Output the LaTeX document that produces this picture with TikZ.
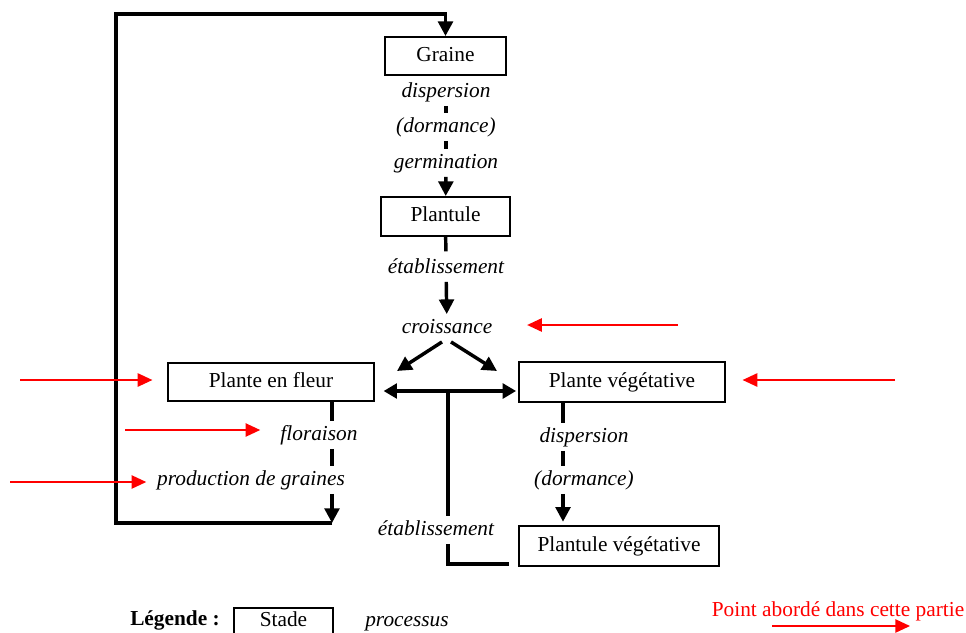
\documentclass[tikz,border=0pt]{standalone}
\usepackage{fontspec}
\setmainfont{Liberation Serif}
\usetikzlibrary{arrows.meta}
\begin{document}
\begin{tikzpicture}[x=0.75pt,y=-0.75pt,
  every node/.style={font=\fontsize{16}{19}\selectfont},
  stagebox/.style 2 args={draw, line width=1.4pt, minimum width=#1*0.75pt, minimum height=#2*0.75pt, inner sep=0pt, text height=11pt, text depth=3.5pt},
  boxline/.style={line width=1.4pt},
  proc/.style={font=\fontsize{16}{19}\selectfont\itshape, inner sep=3pt, text height=11pt, text depth=3.5pt},
  link/.style={line width=2.6pt},
  arr/.style={link, -{Triangle[length=11pt,width=11pt]}},
  dbl/.style={link, {Triangle[length=10pt,width=11pt]}-{Triangle[length=10pt,width=11pt]}},
  redarr/.style={red, line width=1.1pt, -{Triangle[length=11pt,width=10pt]}}]
\useasboundingbox (0,0) rectangle (966,632);
\clip (0,0) rectangle (966,632);

% stages
\node[stagebox={121}{38}] (graine) at (445.5,56) {Graine};
\node[stagebox={129}{39}] (plantule) at (445.5,216.5) {Plantule};
\node[stagebox={206}{38}] (fleur) at (271,382) {Plante en fleur};
\node[stagebox={206}{40}] (veg) at (622,382) {Plante végétative};
\node[stagebox={200}{40}] (pveg) at (619,546) {Plantule végétative};

% processes
\node[proc] (disp1) at (446,92) {dispersion};
\node[proc] (dorm1) at (446,127) {(dormance)};
\node[proc] (germ) at (446,163) {germination};
\node[proc] (etab1) at (446,268) {établissement};
\node[proc] (crois) at (447,328) {croissance};
\node[proc] (flor) at (319,435) {floraison};
\node[proc] (prod) at (251,480) {production de graines};
\node[proc] (disp2) at (584,437) {dispersion};
\node[proc] (dorm2) at (584,480) {(dormance)};
\node[proc] (etab2) at (436,530) {établissement};

% helper coordinates
\coordinate (lx) at (332,0);
\coordinate (rx) at (563,0);
\coordinate (hj) at (448,391);
\coordinate (lb) at (332,523);
\coordinate (lc) at (116,14);
\coordinate (cL) at (397,371);
\coordinate (cR) at (497,371);

% seed column
\draw[link] (disp1) -- (dorm1);
\draw[link] (dorm1) -- (germ);
\draw[arr] (germ) -- (plantule);
\draw[link, shorten >=2pt] (plantule) -- (etab1);
\draw[arr] (etab1) -- (crois);
\draw[arr] ([shift={(-5,0)}]crois.south) -- (cL);
\draw[arr] ([shift={(4,0)}]crois.south) -- (cR);

% horizontal double arrow and vegetative establishment
\draw[dbl, shorten <=6.5pt, shorten >=1.5pt] (hj -| fleur.east) -- (hj -| veg.west);
\draw[link] (hj) -- (hj |- etab2.north);
\draw[link] (hj |- etab2.south) |- ([shift={(-9,-3)}]pveg.south west);

% flowering column
\draw[link] (fleur.south -| lx) -- (flor.north -| lx);
\draw[link] (flor.south -| lx) -- (prod.north -| lx);
\draw[arr] (prod.south -| lx) -- (lb);
\draw[arr] (lb) -| (lc) -| (graine.north);

% vegetative column
\draw[link] (veg.south -| rx) -- (disp2.north -| rx);
\draw[link] (disp2.south -| rx) -- (dorm2.north -| rx);
\draw[arr, shorten >=2.5pt] (dorm2.south -| rx) -- (pveg.north -| rx);

% red pointers
\coordinate (r1) at (20,380);
\coordinate (r2) at (125,430);
\coordinate (r3) at (10,482);
\coordinate (r4) at (678,325);
\coordinate (r5) at (895,380);
\draw[redarr, shorten >=11pt] (r1) -- (r1 -| fleur.west);
\draw[redarr, shorten >=12pt] (r2) -- (r2 -| flor.west);
\draw[redarr, shorten >=5pt] (r3) -- (r3 -| prod.west);
\draw[redarr, shorten >=23pt] (r4) -- (r4 -| crois.east);
\draw[redarr, shorten >=12.5pt] (r5) -- (r5 -| veg.east);

% legend
\node[font=\fontsize{16}{19}\selectfont\bfseries] (leg) at (175,620) {Légende :};
\node[inner sep=0pt] (stade) at (283.5,619.5) {Stade};
\draw[boxline] ([shift={(-49.5,19)}]stade.center) |- ([shift={(49.5,-11.5)}]stade.center) -- ([shift={(49.5,19)}]stade.center);
\node[proc] (procl) at (407,621) {processus};
\node[text=red] (point) at (838,611) {Point abordé dans cette partie};
\coordinate (ls) at (772,626);
\coordinate (le) at (910,626);
\draw[redarr] (ls) -- (le);
\end{tikzpicture}
\end{document}
